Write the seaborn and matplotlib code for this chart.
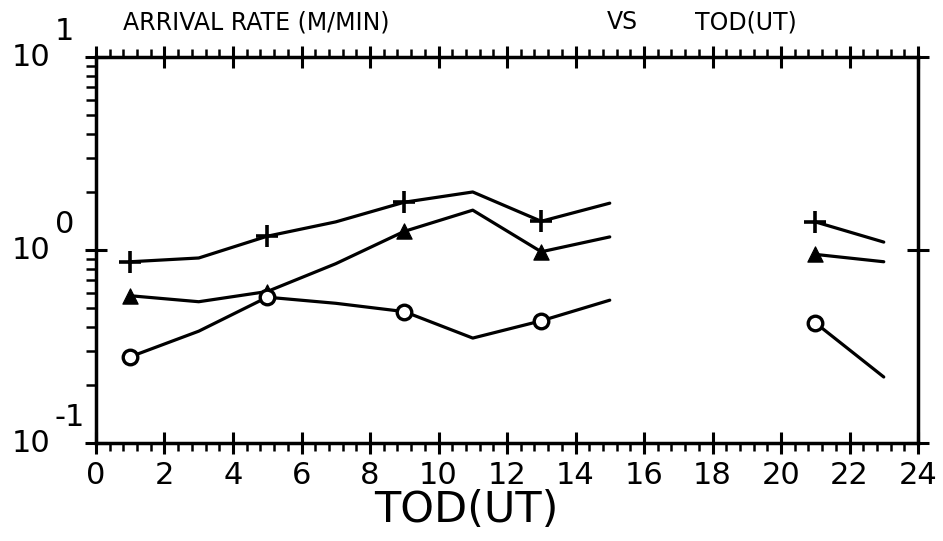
import numpy as np
import pandas as pd
import seaborn as sns
import matplotlib
matplotlib.use('Agg')
import matplotlib.pyplot as plt
from matplotlib.ticker import MultipleLocator, LogLocator, NullFormatter
import matplotlib.transforms as mtransforms

# arrival rate (M/MIN) vs time of day (UT)
tod = [1, 3, 5, 7, 9, 11, 13, 15, 21, 23]
rate_plus = [0.87, 0.91, 1.18, 1.40, 1.77, 2.00, 1.41, 1.75, 1.40, 1.10]
rate_tri = [0.58, 0.54, 0.61, 0.85, 1.25, 1.61, 0.98, 1.17, 0.95, 0.87]
rate_circ = [0.28, 0.38, 0.57, 0.53, 0.48, 0.35, 0.43, 0.55, 0.42, 0.22]
marker_hours = [1, 5, 9, 13, 21]
xticks = list(range(0, 25, 2))
ydecades = [0.1, 1, 10]
yexp = ['-1', '0', '1']

sns.set_style('ticks')
plt.rcParams['font.family'] = ['DejaVu Sans']
plt.rcParams['text.color'] = 'black'
plt.rcParams['axes.labelcolor'] = 'black'
plt.rcParams['xtick.color'] = 'black'
plt.rcParams['ytick.color'] = 'black'

rows = []
for name, vals in [('plus', rate_plus), ('tri', rate_tri), ('circ', rate_circ)]:
    for t, v in zip(tod, vals):
        rows.append({'tod': t, 'rate': v, 'series': name, 'seg': 0 if t <= 15 else 1})
df = pd.DataFrame(rows)
df['unit'] = df['series'] + df['seg'].astype(str)

fig = plt.figure(figsize=(9.43, 5.41), dpi=100)
ax = fig.add_axes([0.1018, 0.181, 0.8717, 0.7135])

# lines, broken where there is no data (15-21 UT)
sns.lineplot(data=df, x='tod', y='rate', units='unit', estimator=None,
             color='black', linewidth=2.3, legend=False, ax=ax)

mk = df[df['tod'].isin(marker_hours)]
sns.scatterplot(data=mk[mk.series == 'plus'], x='tod', y='rate', marker='+',
                s=230, color='black', linewidth=2.6, ax=ax, legend=False, zorder=5)
sns.scatterplot(data=mk[mk.series == 'tri'], x='tod', y='rate', marker='^',
                s=120, color='black', edgecolor='black', ax=ax, legend=False, zorder=5)
sns.scatterplot(data=mk[mk.series == 'circ'], x='tod', y='rate', marker='o',
                s=110, facecolor='white', edgecolor='black', linewidth=2.4,
                ax=ax, legend=False, zorder=5)

ax.set_yscale('log')
ax.set_xlim(0, 24)
ax.set_ylim(0.1, 10)

ax.xaxis.set_minor_locator(MultipleLocator(0.4))
ax.set_xticks(xticks)
ax.set_xticklabels([str(v) for v in xticks], fontsize=22)
ax.yaxis.set_major_locator(LogLocator(base=10))
ax.yaxis.set_minor_locator(LogLocator(base=10, subs=np.arange(2, 10)))
ax.yaxis.set_major_formatter(NullFormatter())
ax.yaxis.set_minor_formatter(NullFormatter())

ax.tick_params(which='major', direction='inout', length=16, width=2.2,
               top=True, right=True, pad=5)
ax.tick_params(axis='x', which='minor', direction='out', length=6, width=1.8,
               top=True, bottom=True)
ax.tick_params(axis='y', which='minor', direction='out', length=7, width=1.8,
               left=True, right=False)
for s in ax.spines.values():
    s.set_linewidth(2.5)
    s.set_color('black')

ax.set_xlabel('')
ax.set_ylabel('')
fig.text(0.494, 0.057, 'TOD(UT)', fontsize=31, ha='center', va='center')

# y tick labels: "10" with a raised exponent of the same size
tr = mtransforms.blended_transform_factory(ax.transAxes, ax.transData)
for d, e in zip(ydecades, yexp):
    ax.text(-0.055, d, '10', transform=tr, ha='right', va='center', fontsize=22,
            clip_on=False)
    ax.text(-0.05, d, e, transform=mtransforms.offset_copy(tr, fig=fig, x=0, y=26, units='dots'),
            ha='left', va='center', fontsize=22, clip_on=False)

fig.text(0.13, 0.959, 'ARRIVAL RATE (M/MIN)', fontsize=17, va='center', ha='left')
fig.text(0.644, 0.959, 'VS', fontsize=17, va='center', ha='left')
fig.text(0.737, 0.959, 'TOD(UT)', fontsize=17, va='center', ha='left')

fig.savefig('out.png', dpi=100, facecolor='white')
